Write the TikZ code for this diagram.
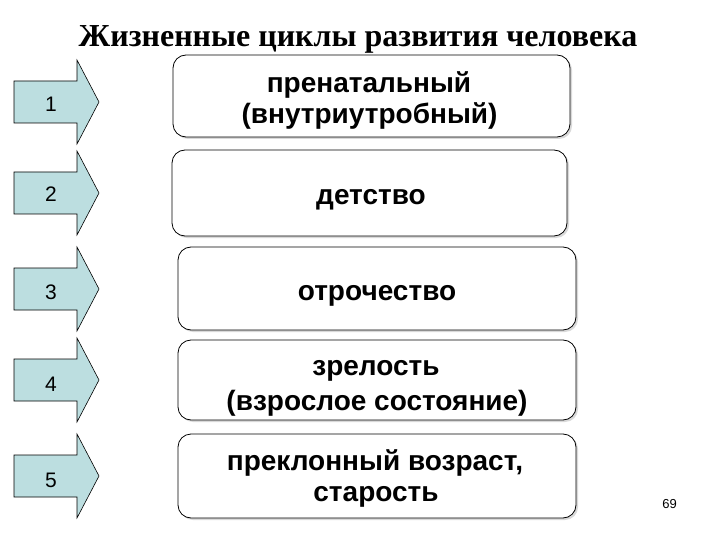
\documentclass[tikz,border=0pt]{standalone}
\usepackage{fontspec}
\setmainfont{Liberation Serif}
\newfontfamily\arial{Liberation Sans}
\usetikzlibrary{shadows}
\definecolor{arrowfill}{RGB}{188,222,224}
\tikzset{
  stagebox/.style={draw=black, line width=0.8pt, rounded corners=13pt, fill=white,
    inner sep=0pt,
    drop shadow={shadow xshift=2pt, shadow yshift=-2pt, fill=black!25, opacity=0.6}},
  boxtext/.style={font=\arial\bfseries\fontsize{28}{33}\selectfont, inner sep=0pt, anchor=base},
  stagearrow/.style={draw=black, line width=0.6pt, fill=arrowfill},
  numlabel/.style={font=\arial\fontsize{21}{24}\selectfont, inner sep=0pt, anchor=base},
}
\begin{document}
\begin{tikzpicture}[x=1pt,y=-1pt]
\useasboundingbox (0,0) rectangle (720,540);
% title
\node[font=\bfseries\fontsize{32}{36}\selectfont, inner sep=0pt, anchor=base] (title) at (358,47) {Жизненные циклы развития человека};
% arrows
\foreach \c/\n/\b in {102/1/112,193/2/202,289/3/299,380/4/391,476/5/487}{
  \draw[stagearrow] (14,\c-21) -- (77,\c-21) -- (77,\c-42) -- (99,\c) -- (77,\c+42) -- (77,\c+21) -- (14,\c+21) -- cycle;
  \node[numlabel] (n\n) at (51,\b) {\n};
}
% boxes
\node[stagebox, minimum width=397pt, minimum height=82pt] (b1) at (371.5,96) {};
\node[stagebox, minimum width=395pt, minimum height=86pt] (b2) at (369.5,193) {};
\node[stagebox, minimum width=398pt, minimum height=83pt] (b3) at (377,288.5) {};
\node[stagebox, minimum width=398pt, minimum height=80pt] (b4) at (377,380) {};
\node[stagebox, minimum width=398pt, minimum height=84pt] (b5) at (377,476) {};
% box texts
\node[boxtext] (t1a) at (369,93) {пренатальный};
\node[boxtext] (t1b) at (369.5,124) {(внутриутробный)};
\node[boxtext] (t2) at (371,205) {детство};
\node[boxtext] (t3) at (377,300) {отрочество};
\node[boxtext] (t4a) at (376,375) {зрелость};
\node[boxtext] (t4b) at (377,410) {(взрослое состояние)};
\node[boxtext] (t5a) at (375,470) {преклонный возраст,};
\node[boxtext] (t5b) at (376,501) {старость};
% page number
\node[font=\arial\fontsize{13}{15}\selectfont, inner sep=0pt] (pg) at (669.5,504) {69};
\end{tikzpicture}
\end{document}
